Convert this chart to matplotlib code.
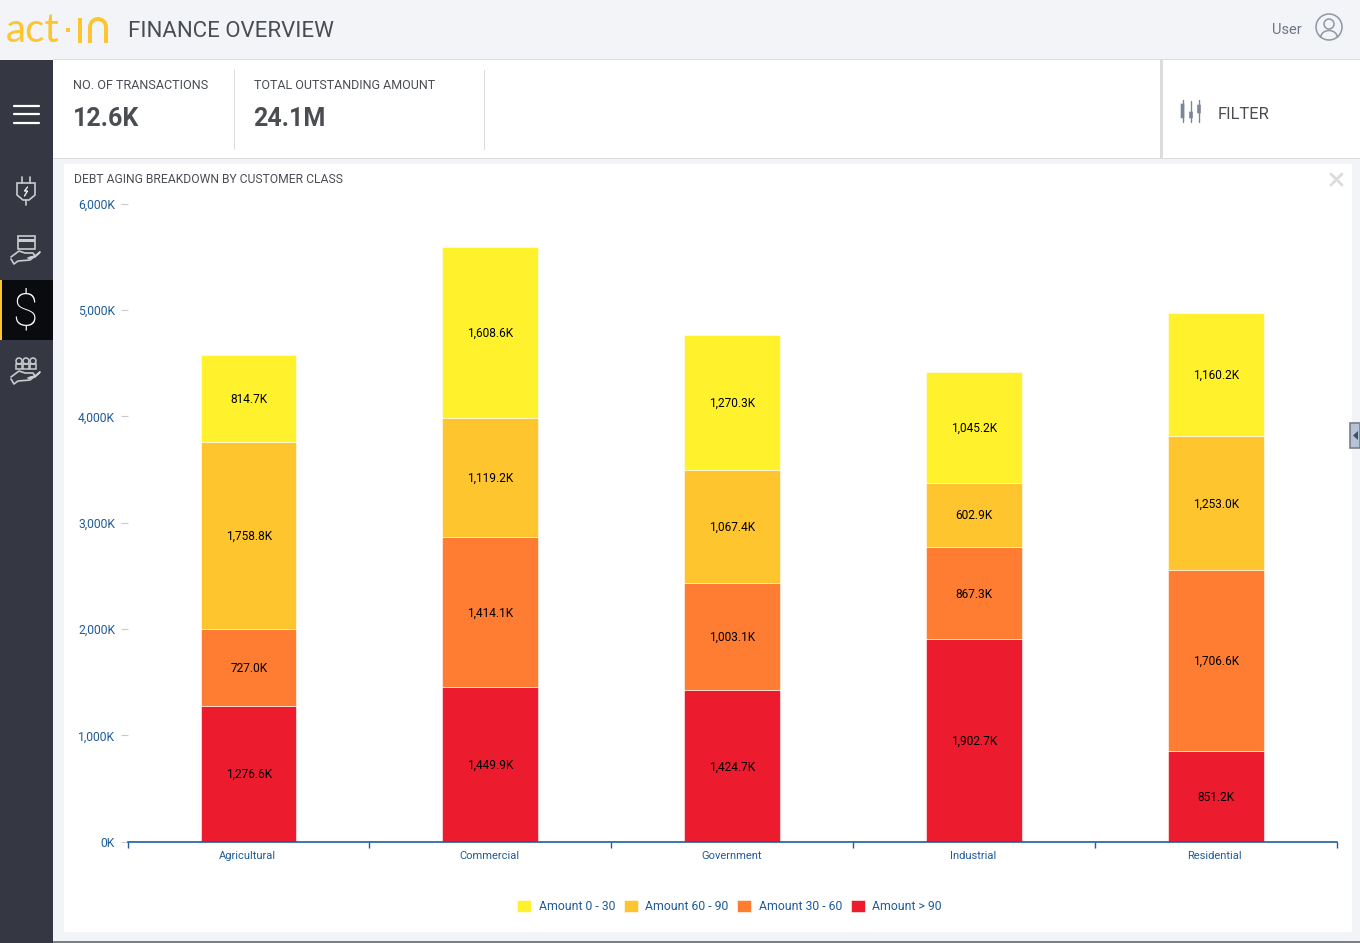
#!/usr/bin/env python3

import matplotlib
matplotlib.use("Agg")
import matplotlib.pyplot as plt
from matplotlib.patches import Rectangle, Circle, Polygon, Arc, FancyBboxPatch
from matplotlib.ticker import FuncFormatter

plt.rcParams["font.family"] = ["Roboto", "DejaVu Sans"]

categories = ["Agricultural", "Commercial", "Government", "Industrial", "Residential"]
amount_over_90 = [1276.6, 1449.9, 1424.7, 1902.7, 851.2]
amount_30_60 = [727.0, 1414.1, 1003.1, 867.3, 1706.6]
amount_60_90 = [1758.8, 1119.2, 1067.4, 602.9, 1253.0]
amount_0_30 = [814.7, 1608.6, 1270.3, 1045.2, 1160.2]
y_ticks = [0, 1000, 2000, 3000, 4000, 5000, 6000]

# bottom to top, the legend reads the other way round
series = [
    ("Amount > 90", amount_over_90, "#ec1c2e"),
    ("Amount 30 - 60", amount_30_60, "#fe7d33"),
    ("Amount 60 - 90", amount_60_90, "#ffc52e"),
    ("Amount 0 - 30", amount_0_30, "#fff22d"),
]

W, H = 1360, 943
BLUE = "#1f5c99"
GREY = "#4a4d52"
ICON = "#c9cbd0"
LOGO = "#fdc52f"


def rect(ax, x0, y0, x1, y1, color, zorder=1):
    ax.add_patch(Rectangle((x0, y0), x1 - x0, y1 - y0, fc=color, ec="none", zorder=zorder))


def line(ax, xs, ys, color=ICON, lw=1.2):
    ax.plot(xs, ys, color=color, lw=lw, solid_capstyle="round", zorder=4)


def hand(ax, x, y):
    # open hand outline under the card / people icons
    xs = [x, x + 8, x + 14, x + 22, x + 24, x + 17, x + 24, x + 29, x + 19, x + 7, x + 3, x]
    ys = [y + 6, y, y + 2, y + 2, y + 5, y + 7, y + 6, y + 1, y + 9, y + 10, y + 13, y + 8]
    line(ax, xs, ys)


def draw_page(ax):
    rect(ax, 0, 0, W, H, "#f2f4f8", 0)
    rect(ax, 53, 60, W, 158, "white")
    rect(ax, 64, 164, 1352, 932, "white")
    rect(ax, 53, 59, W, 60, "#dcdcdc", 2)
    rect(ax, 53, 158, W, 159, "#dcdcdc", 2)
    rect(ax, 1160, 60, 1163, 158, "#dcdcdc", 2)
    rect(ax, 234, 70, 235, 150, "#dcdcdc", 2)
    rect(ax, 484, 70, 485, 150, "#dcdcdc", 2)
    rect(ax, 0, 941, W, H, "#7c7f85", 2)

    # sidebar
    rect(ax, 0, 60, 53, H, "#353842", 2)
    rect(ax, 0, 280, 53, 340, "#0a0b0e", 3)
    rect(ax, 0, 280, 2, 340, "#ffc52e", 4)
    for y in [105.5, 114, 122.5]:
        line(ax, [14, 39], [y, y], "white", 1.6)

    # plug icon
    line(ax, [22, 22], [177, 183])
    line(ax, [30, 30], [177, 183])
    ax.add_patch(Polygon([(17, 183), (35, 183), (35, 195), (29, 200), (23, 200), (17, 195)],
                         fc="none", ec=ICON, lw=1.2, zorder=4))
    line(ax, [26, 26], [200, 205])
    line(ax, [27.5, 24.5, 27.5, 24.5], [187, 191, 191, 196], "white", 0.9)

    # card in hand icon
    ax.add_patch(Rectangle((18, 236), 17, 13, fc="none", ec=ICON, lw=1.2, zorder=4))
    rect(ax, 18, 239, 35, 242, ICON, 4)
    hand(ax, 11, 251)

    # dollar icon
    ax.text(25, 313, "$", color="white", fontsize=33, fontweight="light",
            ha="center", va="center", zorder=5)

    # people in hand icon
    for x in [19, 26, 33]:
        ax.add_patch(Circle((x, 361), 3, fc="none", ec=ICON, lw=1.1, zorder=4))
        ax.add_patch(Rectangle((x - 3.2, 364), 6.4, 5, fc="none", ec=ICON, lw=1.1, zorder=4))
    hand(ax, 11, 371)

    # header
    ax.text(6, 42.5, "act", color=LOGO, fontsize=29, family="Lato",
            ha="left", va="baseline", zorder=5)
    rect(ax, 66, 28, 70, 32, LOGO, 5)
    rect(ax, 78, 18, 82, 42.5, LOGO, 5)
    ax.add_patch(Arc((98, 27), 16, 16, theta1=180, theta2=360, ec=LOGO, lw=2.8, zorder=5))
    rect(ax, 88, 26.5, 92, 42.5, LOGO, 5)
    rect(ax, 104, 26.5, 108, 42.5, LOGO, 5)
    ax.text(128, 31.5, "FINANCE OVERVIEW", color=GREY, fontsize=16, ha="left", va="center", zorder=5)
    ax.text(1272, 30, "User", color="#6b7585", fontsize=10.5, ha="left", va="center", zorder=5)
    ax.add_patch(Circle((1329, 27), 13, fc="none", ec="#8f97a5", lw=1.1, zorder=5))
    ax.add_patch(Circle((1329, 24), 5, fc="none", ec="#8f97a5", lw=1.1, zorder=5))
    ax.add_patch(Arc((1329, 38), 17, 15, theta1=180, theta2=360, ec="#8f97a5", lw=1.1, zorder=5))

    # KPI cards
    ax.text(73, 85.5, "NO. OF TRANSACTIONS", color=GREY, fontsize=9.1, ha="left", va="center", zorder=5)
    ax.text(73, 118.5, "12.6K", color=GREY, fontsize=18, fontweight="bold", ha="left", va="center", zorder=5)
    ax.text(254, 85.5, "TOTAL OUTSTANDING AMOUNT", color=GREY, fontsize=9, ha="left", va="center", zorder=5)
    ax.text(253.5, 118.5, "24.1M", color=GREY, fontsize=18, fontweight="bold", ha="left", va="center", zorder=5)

    # filter button
    for x, y0, y1 in [(1182.5, 104, 118), (1191, 112, 118), (1199, 105, 113)]:
        line(ax, [x, x], [100 if x != 1191 else 101, 122], "#7b8798", 1.0)
        ax.add_patch(FancyBboxPatch((x - 1.5, y0), 3, y1 - y0, boxstyle="round,pad=0.3",
                                    fc="#7b8798", ec="none", zorder=5))
    ax.text(1218, 114.5, "FILTER", color=GREY, fontsize=11.9, ha="left", va="center", zorder=5)

    # chart panel chrome
    ax.text(74, 179.5, "DEBT AGING BREAKDOWN BY CUSTOMER CLASS", color=GREY, fontsize=8.72,
            ha="left", va="center", zorder=5)
    line(ax, [1331, 1342], [174, 185], "#dcdcdc", 2)
    line(ax, [1331, 1342], [185, 174], "#dcdcdc", 2)
    ax.add_patch(Rectangle((1349.5, 423), 10.5, 25, fc="#b4c3d6", ec="#7c7f85", lw=1.2, zorder=5))
    ax.add_patch(Polygon([(1353, 435.5), (1358, 431), (1358, 440)], fc="#3f5168", ec="none", zorder=6))


def draw_chart(ax):
    positions = [i + 0.5 for i in range(len(categories))]
    bottom = [0] * len(categories)
    handles = {}
    for name, values, color in series:
        bars = ax.bar(positions, values, width=0.397, bottom=bottom, color=color,
                      edgecolor="white", linewidth=0.4, label=name, zorder=2)
        handles[name] = bars
        for x, b, v in zip(positions, bottom, values):
            ax.annotate(f"{v:,.1f}K", (x, b + v / 2), xytext=(0.2, -0.7), textcoords="offset points",
                        ha="center", va="center", fontsize=8.6, color="black", zorder=3)
        bottom = [b + v for b, v in zip(bottom, values)]

    ax.set_xlim(0, 5)
    ax.set_ylim(0, 6000)
    ax.set_yticks(y_ticks)
    ax.yaxis.set_major_formatter(FuncFormatter(lambda v, _: f"{v:,.0f}K"))
    ax.tick_params(axis="y", length=5, width=0.8, color="#c8cace", labelcolor=BLUE,
                   labelsize=8.7, pad=4)
    for label in ax.get_yticklabels():
        label.set_verticalalignment("center_baseline")
    ax.set_xticks(range(6))
    ax.set_xticklabels([])
    ax.set_xticks([p - 0.004 for p in positions], categories, minor=True)
    ax.tick_params(axis="x", which="major", length=4, width=1, color=BLUE)
    ax.tick_params(axis="x", which="minor", length=0, labelcolor=BLUE, labelsize=8, pad=7)
    for side in ["top", "right", "left"]:
        ax.spines[side].set_visible(False)
    ax.spines["bottom"].set_color(BLUE)
    ax.spines["bottom"].set_linewidth(1.2)
    ax.patch.set_alpha(0)

    order = ["Amount 0 - 30", "Amount 60 - 90", "Amount 30 - 60", "Amount > 90"]
    legend = ax.legend(
        [handles[n] for n in order], order, ncol=4, loc="center",
        bbox_to_anchor=((730 - 128) / 1209, (842 - 907) / 638),
        frameon=False, fontsize=8.8, labelcolor=BLUE, handlelength=1.15, handleheight=1.15,
        handletextpad=0.6, columnspacing=0.72,
    )
    return legend


def main():
    fig = plt.figure(figsize=(W / 100, H / 100), dpi=100)
    page = fig.add_axes([0, 0, 1, 1], zorder=0)
    page.set_xlim(0, W)
    page.set_ylim(H, 0)
    page.axis("off")
    draw_page(page)
    page.set_xlim(0, W)
    page.set_ylim(H, 0)

    chart = fig.add_axes([127.6 / W, 1 - 841.6 / H, 1209 / W, 638 / H], zorder=1)
    draw_chart(chart)

    fig.savefig("out.png", dpi=100)
    plt.close(fig)


if __name__ == "__main__":
    main()
